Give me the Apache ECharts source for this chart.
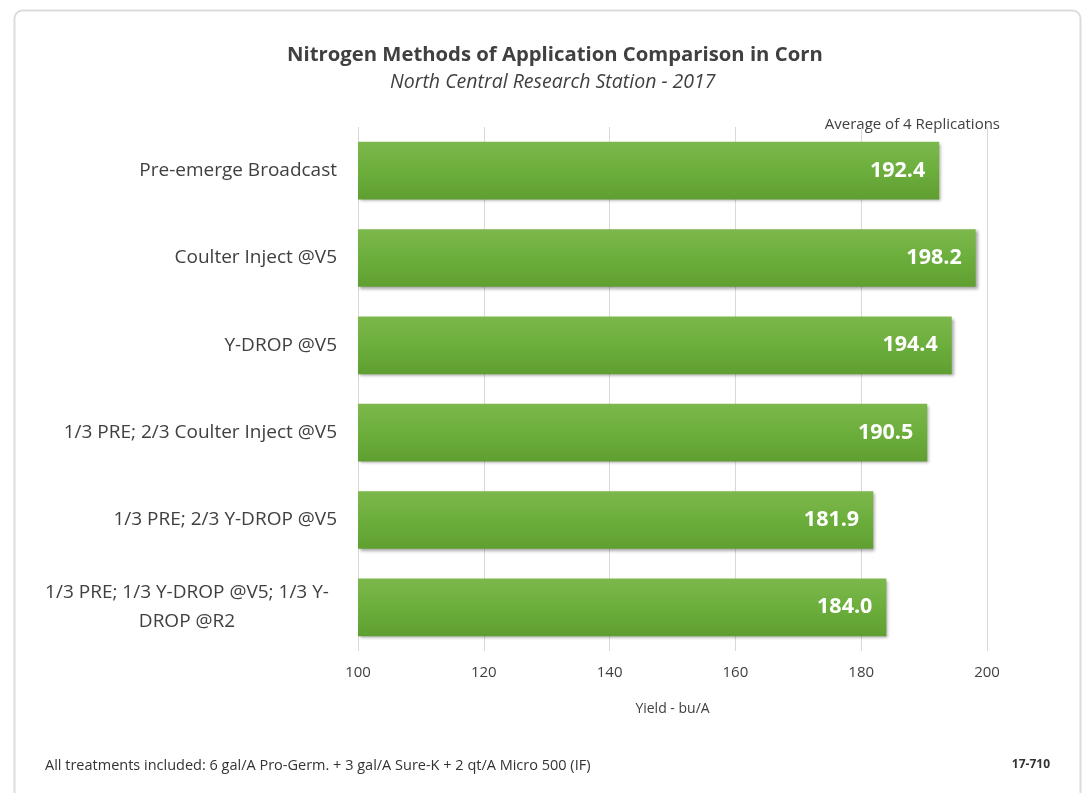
<!DOCTYPE html>
<html><head><meta charset="utf-8">
<script src="https://cdn.jsdelivr.net/npm/echarts@6/dist/echarts.min.js"></script>
<style>html,body{margin:0;padding:0;background:#fff}#c{width:1088px;height:793px}</style>
</head><body><div id="c"></div>
<script>
const categories = ["Pre-emerge Broadcast", "Coulter Inject @V5", "Y-DROP @V5", "1/3 PRE; 2/3 Coulter Inject @V5", "1/3 PRE; 2/3 Y-DROP @V5", "1/3 PRE; 1/3 Y-DROP @V5; 1/3 Y-\nDROP @R2"];
const yields = [192.4, 198.2, 194.4, 190.5, 181.9, 184.0];
const xTicks = [100, 120, 140, 160, 180, 200];
const titleText = "Nitrogen Methods of Application Comparison in Corn";
const subtitleText = "North Central Research Station - 2017";
const noteText = "Average of 4 Replications";
const footerText = "All treatments included: 6 gal/A Pro-Germ. + 3 gal/A Sure-K + 2 qt/A Micro 500 (IF)";
const codeText = "17-710";
const axisName = "Yield - bu/A";

const FONT = 'Open Sans';
const chart = echarts.init(document.getElementById('c'), null, {renderer: 'canvas'});
chart.setOption({
  backgroundColor: '#fff',
  animation: false,
  textStyle: {fontFamily: FONT},
  title: [
    {text: titleText, left: 282, top: 40, textStyle: {fontFamily: FONT, fontSize: 20.3, fontWeight: 'bold', color: '#404040'}},
    {text: subtitleText, left: 385, top: 67, textStyle: {fontFamily: FONT, fontSize: 19.5, fontStyle: 'italic', fontWeight: 'normal', color: '#404040'}}
  ],
  graphic: [
    {type: 'rect', left: 12, top: 8, shape: {width: 1066, height: 800, r: 8}, style: {fill: 'none', stroke: '#dcdcdc', lineWidth: 2}, silent: true},
    {type: 'text', right: 88, top: 117, style: {text: noteText, fontFamily: FONT, fontSize: 15, fill: '#404040'}},
    {type: 'text', left: 45, top: 758, style: {text: footerText, fontFamily: FONT, fontSize: 14.5, fill: '#333'}},
    {type: 'text', right: 38, top: 759, style: {text: codeText, fontFamily: FONT, fontSize: 12, fontWeight: 'bold', fill: '#333'}}
  ],
  grid: {left: 358, right: 101, top: 127, height: 524, containLabel: false},
  xAxis: {
    type: 'value', min: 100, max: 200, interval: 20,
    name: axisName, nameLocation: 'middle', nameGap: 51,
    nameTextStyle: {fontFamily: FONT, fontSize: 14, color: '#404040'},
    axisLine: {show: false}, axisTick: {show: false},
    axisLabel: {fontFamily: FONT, fontSize: 15, color: '#404040', margin: 14,
      formatter: v => xTicks.includes(v) ? String(v) : ''},
    splitLine: {show: true, lineStyle: {color: '#d9d9d9', width: 1}}
  },
  yAxis: {
    type: 'category', data: categories, inverse: true,
    axisLine: {show: false}, axisTick: {show: false},
    axisLabel: {
      fontFamily: FONT, fontSize: 19, color: '#404040', margin: 21, lineHeight: 29,
      formatter: function (v) {
        if (v.indexOf('\n') >= 0) {
          return v.split('\n').map(s => '{c|' + s + '}').join('\n');
        }
        return v;
      },
      rich: {c: {fontFamily: FONT, fontSize: 19, color: '#404040', width: 300, align: 'center', lineHeight: 29}}
    }
  },
  series: [{
    type: 'bar', data: yields, barCategoryGap: '34%',
    itemStyle: {
      color: new echarts.graphic.LinearGradient(0, 0, 0, 1, [
        {offset: 0, color: '#7cb84c'},
        {offset: 0.5, color: '#6cae3c'},
        {offset: 1, color: '#5f9f31'}
      ]),
      shadowColor: 'rgba(0,0,0,0.35)', shadowBlur: 3, shadowOffsetX: 2, shadowOffsetY: 2
    },
    label: {
      show: true, position: 'insideRight', distance: 14,
      formatter: p => p.value.toFixed(1),
      fontFamily: FONT, fontSize: 21.5, fontWeight: 'bold', color: '#fff'
    }
  }]
});
</script></body></html>
